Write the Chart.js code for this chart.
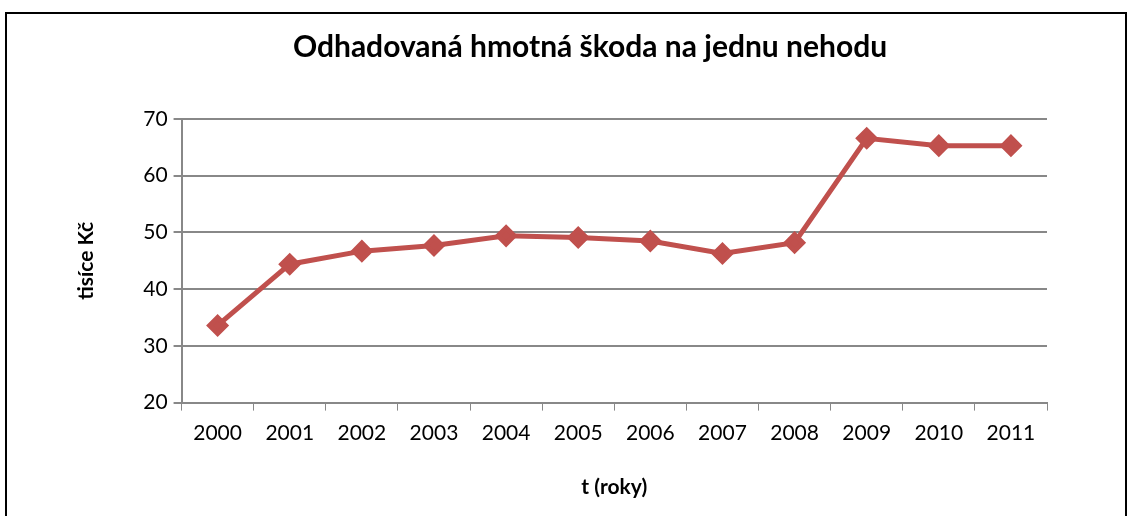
<!DOCTYPE html>
<html>
<head>
<meta charset="utf-8">
<script src="https://cdn.jsdelivr.net/npm/chart.js@4/dist/chart.umd.min.js"></script>
<style>
  html, body { margin: 0; padding: 0; background: #fff; }
  #wrap { position: absolute; left: 0; top: 0; width: 1129px; height: 516px; }
</style>
</head>
<body>
<div id="wrap"><canvas id="chart" width="1129" height="516"></canvas></div>
<script>
const years = ['2000', '2001', '2002', '2003', '2004', '2005', '2006', '2007', '2008', '2009', '2010', '2011']
const damage = [33.6, 44.4, 46.7, 47.7, 49.4, 49.1, 48.5, 46.3, 48.2, 66.6, 65.3, 65.3]
const yTicks = [20, 30, 40, 50, 60, 70]

const FONT = 'Lato, "Open Sans", sans-serif'

const frame = {
  id: 'frame',
  beforeDraw(chart) {
    const ctx = chart.ctx
    ctx.save()
    ctx.fillStyle = '#fff'
    ctx.fillRect(0, 0, chart.width, chart.height)
    ctx.strokeStyle = '#000'
    ctx.lineWidth = 2
    ctx.beginPath()
    ctx.moveTo(6, 520)
    ctx.lineTo(6, 13)
    ctx.lineTo(1126, 13)
    ctx.lineTo(1126, 520)
    ctx.stroke()
    ctx.restore()
  }
}

new Chart(document.getElementById('chart'), {
  type: 'line',
  data: {
    labels: years,
    datasets: [
      {
        data: damage,
        borderColor: '#C0504D',
        backgroundColor: '#C0504D',
        borderWidth: 5,
        pointStyle: 'rectRot',
        pointRadius: 8,
        pointHoverRadius: 8,
        tension: 0
      }
    ]
  },
  options: {
    responsive: false,
    animation: false,
    layout: {
      padding: { top: 22, left: 70, right: 19, bottom: 12 }
    },
    plugins: {
      legend: { display: false },
      tooltip: { enabled: false },
      title: {
        display: true,
        text: 'Odhadovaná hmotná škoda na jednu nehodu',
        color: '#000',
        font: { family: FONT, size: 30, weight: 'bold' },
        padding: { top: 7, bottom: 54 }
      }
    },
    scales: {
      x: {
        offset: true,
        grid: {
          offset: true,
          drawOnChartArea: false,
          color: '#888',
          tickLength: 8
        },
        border: { color: '#888', width: 2 },
        ticks: {
          color: '#000',
          font: { family: FONT, size: 21 },
          padding: 10,
          maxRotation: 0
        },
        title: {
          display: true,
          text: 't (roky)',
          color: '#000',
          font: { family: FONT, size: 21, weight: 'bold' },
          padding: { top: 19 }
        }
      },
      y: {
        min: 20,
        max: 70,
        afterBuildTicks(axis) {
          axis.ticks = yTicks.map(v => ({ value: v }))
        },
        grid: {
          color: '#888',
          lineWidth: 2,
          tickLength: 8
        },
        border: { color: '#888', width: 2 },
        ticks: {
          color: '#000',
          font: { family: FONT, size: 21 },
          padding: 6
        },
        title: {
          display: true,
          text: 'tisíce Kč',
          color: '#000',
          font: { family: FONT, size: 21, weight: 'bold' },
          padding: { bottom: 38 }
        }
      },
      // empty right-hand axis only reserves the space right of the plot
      spacer: {
        position: 'right',
        display: true,
        grid: { display: false },
        border: { display: false },
        ticks: { display: false },
        afterFit(axis) {
          axis.width = 63
        }
      }
    }
  },
  plugins: [frame]
})
</script>
</body>
</html>
